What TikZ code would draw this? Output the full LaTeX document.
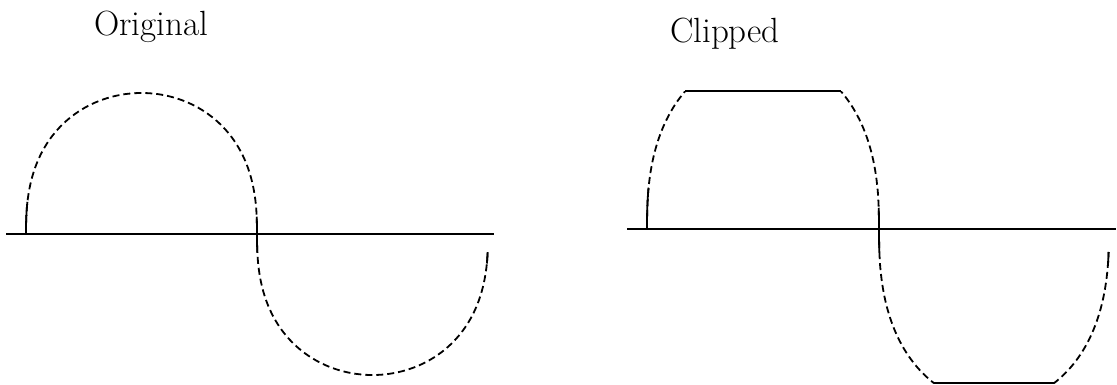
\documentclass[tikz,border=0pt]{standalone}
\begin{document}
\begin{tikzpicture}[x=1pt,y=-1pt,
  wave/.style={line width=1.8pt, dash pattern=on 7pt off 4pt},
  solidbit/.style={line width=1.8pt},
  axisline/.style={line width=2pt},
  title/.style={font=\fontsize{35}{40}\selectfont, inner sep=0pt, anchor=base west}]
\useasboundingbox (0,0) rectangle (1117,384);

% ---------- Original ----------
\node[title] (torig) at (94,35) {Original};
\draw[axisline] (6,234) -- (494,234);
% upper half
\draw[wave] plot[domain=179.9:0.1, samples=140, variable=\t]
  ({141.5+115.5*cos(\t)}, {234-141*pow(sin(\t),0.8)});
% lower half
\draw[wave] plot[domain=179.9:4.4, samples=140, variable=\t]
  ({372.5+115.5*cos(\t)}, {234+141*pow(sin(\t),0.8)});
% solid near-vertical runs
\draw[solidbit] plot[domain=171:179.9, samples=20, variable=\t]
  ({141.5+115.5*cos(\t)}, {234-141*pow(sin(\t),0.8)});
\draw[solidbit] plot[domain=0.1:4.1, samples=20, variable=\t]
  ({141.5+115.5*cos(\t)}, {234-141*pow(sin(\t),0.8)});
\draw[solidbit] plot[domain=175.6:179.9, samples=20, variable=\t]
  ({372.5+115.5*cos(\t)}, {234+141*pow(sin(\t),0.8)});
\draw[solidbit] plot[domain=4.4:8, samples=20, variable=\t]
  ({372.5+115.5*cos(\t)}, {234+141*pow(sin(\t),0.8)});

% ---------- Clipped ----------
\node[title] (tclip) at (670,42) {Clipped};
\draw[axisline] (627,229) -- (1116,229);
\begin{scope}
  \clip (600,91) rectangle (1117,383);
  \draw[wave] plot[domain=179.9:0.1, samples=140, variable=\t]
    ({763+116*cos(\t)}, {229-175*pow(sin(\t),0.8)});
  \draw[wave] plot[domain=179.9:4.5, samples=140, variable=\t]
    ({994+115*cos(\t)}, {229+175*pow(sin(\t),0.8)});
\end{scope}
\draw[solidbit] (685.4,91) -- (840.6,91);
\draw[solidbit] (933.8,383) -- (1054.2,383);
\draw[solidbit] plot[domain=170.6:179.9, samples=20, variable=\t]
  ({763+116*cos(\t)}, {229-175*pow(sin(\t),0.8)});
\draw[solidbit] plot[domain=0.1:4.05, samples=20, variable=\t]
  ({763+116*cos(\t)}, {229-175*pow(sin(\t),0.8)});
\draw[solidbit] plot[domain=175.5:179.9, samples=20, variable=\t]
  ({994+115*cos(\t)}, {229+175*pow(sin(\t),0.8)});
\draw[solidbit] plot[domain=4.5:8, samples=20, variable=\t]
  ({994+115*cos(\t)}, {229+175*pow(sin(\t),0.8)});
\end{tikzpicture}
\end{document}
